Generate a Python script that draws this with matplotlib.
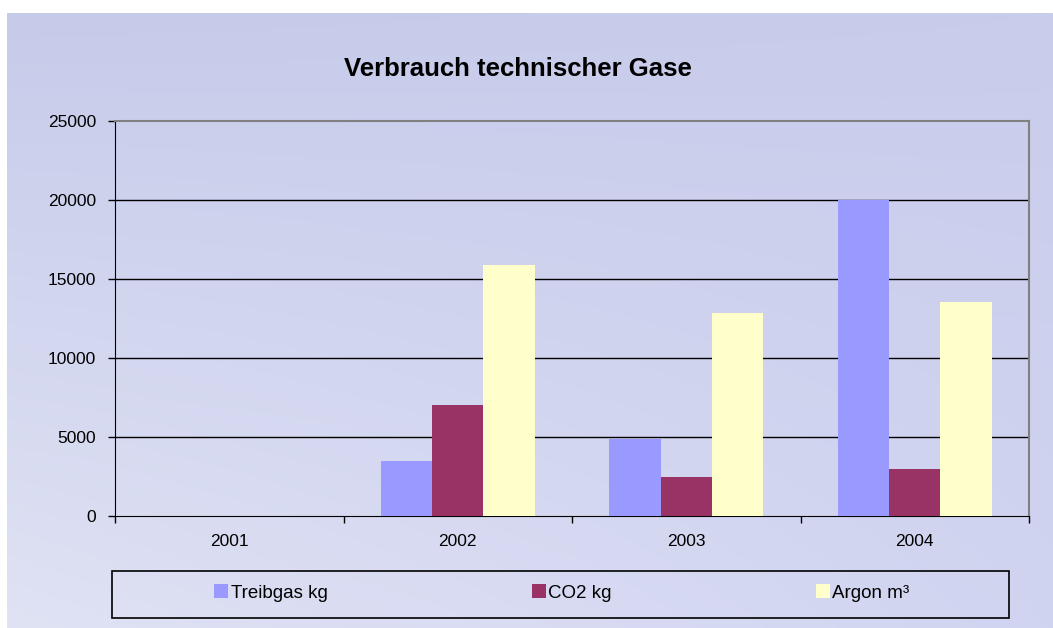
import numpy as np
import matplotlib
matplotlib.use("Agg")
import matplotlib.pyplot as plt
from matplotlib.patches import Rectangle

# consumption of technical gases per year
years = ["2001", "2002", "2003", "2004"]
treibgas = [0, 3500, 4900, 20000]
co2 = [0, 7000, 2500, 3000]
argon = [0, 15900, 12850, 13550]
series_names = ["Treibgas kg", "CO2 kg", "Argon m³"]
series_colors = ["#9999FF", "#993366", "#FFFFCC"]
y_ticks = [0, 5000, 10000, 15000, 20000, 25000]

plt.rcParams["font.family"] = ["Liberation Sans", "DejaVu Sans"]

W, H = 1053, 628
fig = plt.figure(figsize=(W / 100, H / 100), dpi=100, facecolor="white")

# textured-looking backdrop, just a soft gradient
bg = fig.add_axes([7 / W, -0.01, 1 - 7 / W, 1.01 - 13 / H], zorder=0)
gy, gx = np.mgrid[0:1:200j, 0:1:300j]
tl = np.array([198, 203, 234]) / 255
tr = np.array([201, 205, 236]) / 255
bl = np.array([224, 227, 244]) / 255
br = np.array([209, 212, 240]) / 255
img = ((1 - gx)[..., None] * ((1 - gy)[..., None] * tl + gy[..., None] * bl)
       + gx[..., None] * ((1 - gy)[..., None] * tr + gy[..., None] * br))
bg.imshow(img, aspect="auto", extent=[0, 1, 0, 1], origin="upper")
bg.axis("off")

ax = fig.add_axes([115 / W, 1 - 516 / H, (1029 - 115) / W, (516 - 121) / H],
                  zorder=1)
ax.set_facecolor("none")

x = np.arange(len(years))
w = 0.225
for i, (vals, name, col) in enumerate(zip([treibgas, co2, argon],
                                          series_names, series_colors)):
    ax.bar(x + (i - 1) * w, vals, width=w, color=col, label=name, zorder=3)

ax.set_xlim(-0.5, len(years) - 0.5)
ax.set_ylim(0, 25000)
ax.set_yticks(y_ticks)
ax.set_yticklabels([str(v) for v in y_ticks])
ax.set_xticks(x)
ax.set_xticklabels(years)
ax.set_xticks(np.arange(-0.5, len(years)), minor=True)
ax.tick_params(axis="x", which="major", length=0, pad=13, labelsize=12.5)
ax.tick_params(axis="x", which="minor", length=5, width=1, direction="out")
ax.tick_params(axis="y", length=5, width=1, pad=8.5, labelsize=12.5)

# black gridlines
for v in y_ticks[1:-1]:
    ax.axhline(v, color="black", lw=1, zorder=1)
ax.spines["top"].set_color("#808080")
ax.spines["right"].set_color("#808080")
ax.spines["top"].set_linewidth(1.5)
ax.spines["right"].set_linewidth(1.5)

fig.text(517.5 / W, 1 - 76 / H, "Verbrauch technischer Gase",
         ha="center", va="baseline", fontsize=18.5, fontweight="bold")

# legend box
fig.patches.append(Rectangle((112 / W, 1 - 618 / H), (1009 - 112) / W,
                             (618 - 571) / H, transform=fig.transFigure,
                             fill=False, edgecolor="black", lw=1.2, zorder=2))
handles, labels = ax.get_legend_handles_labels()
fig.legend(handles, labels, loc="center", ncol=3,
           bbox_to_anchor=(562 / W, 1 - 593 / H), frameon=False,
           fontsize=13.5, handlelength=0.75, handleheight=0.7,
           handletextpad=0.12, columnspacing=10.9)

fig.savefig("out.png", dpi=100)
